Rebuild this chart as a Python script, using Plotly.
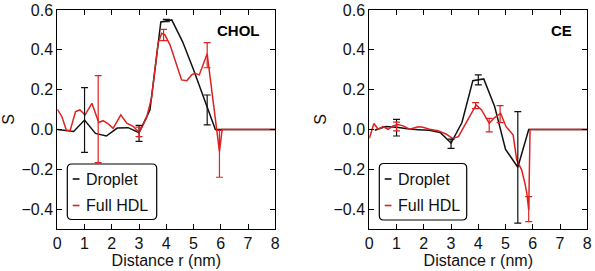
import plotly.graph_objects as go

W, H = 595, 271

# ---------------- data ----------------
chol_drop_x = [0.0, 0.2, 0.6, 1.0, 1.4, 1.8, 2.2, 2.6, 3.0, 3.4, 3.8, 4.2, 4.6, 5.0, 5.4, 5.8, 8.0]
chol_drop_y = [0.0, -0.004, -0.01, 0.047, -0.02, -0.033, 0.007, 0.009, -0.016, 0.098, 0.54, 0.55, 0.44, 0.30, 0.145, 0.0, 0.0]
chol_hdl_x = [0.0, 0.17, 0.33, 0.47, 0.67, 0.83, 1.02, 1.27, 1.52, 1.68, 1.87, 2.05, 2.33, 2.55, 2.8, 3.0,
              3.27, 3.46, 3.7, 3.83, 3.95, 4.14, 4.32, 4.56, 4.75, 4.93, 5.05, 5.21, 5.5, 5.85, 5.95, 6.05, 8.0]
chol_hdl_y = [0.101, 0.064, -0.003, -0.006, 0.09, 0.098, 0.073, 0.131, 0.035, 0.044, 0.028, 0.006, 0.073, 0.031, 0.014, -0.015,
              0.056, 0.16, 0.433, 0.483, 0.475, 0.424, 0.349, 0.249, 0.245, 0.274, 0.282, 0.274, 0.38, -0.003, -0.11, 0.0, 0.0]
chol_drop_err_x = [1.0, 3.0, 4.0, 5.5]
chol_drop_err_y = [0.047, -0.02, 0.547, 0.098]
chol_drop_err_plus = [0.163, 0.04, 0.006, 0.075]
chol_drop_err_minus = [0.162, 0.04, 0.006, 0.075]
chol_hdl_err_x = [1.5, 3.0, 3.9, 5.5, 5.95]
chol_hdl_err_y = [0.05, -0.012, 0.475, 0.372, -0.122]
chol_hdl_err_plus = [0.22, 0.024, 0.028, 0.064, 0.117]
chol_hdl_err_minus = [0.217, 0.024, 0.029, 0.062, 0.118]

ce_drop_x = [0.2, 0.6, 1.0, 1.4, 1.8, 2.2, 2.6, 3.0, 3.4, 3.8, 4.2, 4.6, 5.0, 5.45, 5.85, 8.0]
ce_drop_y = [-0.004, 0.015, 0.011, 0.003, -0.001, -0.004, -0.015, -0.068, 0.035, 0.245, 0.254, 0.115, -0.1, -0.19, 0.0, 0.0]
ce_hdl_x = [0.0, 0.17, 0.32, 0.5, 0.69, 0.87, 1.05, 1.24, 1.48, 1.79, 1.97, 2.21, 2.52, 2.83, 3.05, 3.27, 3.51,
            3.92, 4.12, 4.4, 4.61, 4.82, 5.02, 5.28, 5.41, 5.59, 5.71, 5.78, 5.85, 5.9, 8.0]
ce_hdl_y = [-0.045, 0.03, 0.001, 0.014, 0.001, 0.018, 0.025, 0.018, 0.001, 0.014, 0.011, 0.001, -0.006, -0.024, -0.045, -0.036, 0.023,
            0.123, 0.098, 0.031, 0.061, 0.081, 0.014, -0.028, -0.153, -0.203, -0.27, -0.32, -0.404, 0.0, 0.0]
ce_drop_err_x = [1.0, 3.0, 4.0, 5.45]
ce_drop_err_y = [0.009, -0.072, 0.249, -0.19]
ce_drop_err_plus = [0.042, 0.023, 0.025, 0.28]
ce_drop_err_minus = [0.042, 0.023, 0.025, 0.28]
ce_hdl_err_x = [1.0, 3.9, 4.4, 4.8, 5.85]
ce_hdl_err_y = [0.015, 0.12, 0.022, 0.077, -0.40]
ce_hdl_err_plus = [0.022, 0.015, 0.034, 0.043, 0.063]
ce_hdl_err_minus = [0.022, 0.015, 0.034, 0.043, 0.063]

series_names = ["Droplet", "Full HDL"]
panel_labels = ["CHOL", "CE"]
y_ticks = [-0.4, -0.2, 0.0, 0.2, 0.4, 0.6]
x_ticks = [0, 1, 2, 3, 4, 5, 6, 7, 8]

# ---------------- style ----------------
BLACK = "#111111"
RED = "#dd2222"
FONT = "Liberation Sans, Arial, sans-serif"

fig = go.Figure()

panels = [
    ("x", "y", chol_drop_x, chol_drop_y, chol_hdl_x, chol_hdl_y,
     (chol_drop_err_x, chol_drop_err_y, chol_drop_err_plus, chol_drop_err_minus),
     (chol_hdl_err_x, chol_hdl_err_y, chol_hdl_err_plus, chol_hdl_err_minus)),
    ("x2", "y2", ce_drop_x, ce_drop_y, ce_hdl_x, ce_hdl_y,
     (ce_drop_err_x, ce_drop_err_y, ce_drop_err_plus, ce_drop_err_minus),
     (ce_hdl_err_x, ce_hdl_err_y, ce_hdl_err_plus, ce_hdl_err_minus)),
]

for xa, ya, dx, dy, hx, hy, derr, herr in panels:
    fig.add_trace(go.Scatter(x=dx, y=dy, mode="lines", name=series_names[0],
                             line=dict(color=BLACK, width=1.5), xaxis=xa, yaxis=ya, showlegend=False))
    fig.add_trace(go.Scatter(x=hx, y=hy, mode="lines", name=series_names[1],
                             line=dict(color=RED, width=1.5), xaxis=xa, yaxis=ya, showlegend=False))
    for err, col in ((derr, BLACK), (herr, RED)):
        ex, ey, ep, em = err
        fig.add_trace(go.Scatter(
            x=ex, y=ey, mode="markers", marker=dict(size=0.1, color=col, opacity=0),
            error_y=dict(type="data", array=ep, arrayminus=em, symmetric=False,
                         color=col, thickness=1.2, width=3.5),
            xaxis=xa, yaxis=ya, showlegend=False))

# geometry (pixels)
LEFTS = [57.3, 369.3]
PW = 218.0
TOP, BOT = 10.0, 229.0

def px(x):
    return x / W

def py(y):
    return 1 - y / H

axis_common = dict(
    showline=True, linecolor="black", linewidth=1, mirror="allticks",
    ticks="inside", ticklen=5, tickwidth=1, tickcolor="black",
    showgrid=False, zeroline=False,
    tickfont=dict(family=FONT, size=16, color="#111111"),
)

layout = dict(
    width=W, height=H, margin=dict(l=0, r=0, t=0, b=0),
    paper_bgcolor="white", plot_bgcolor="white",
    font=dict(family=FONT, color="#111111"),
    showlegend=False,
)
for i, L in enumerate(LEFTS):
    sx = "" if i == 0 else str(i + 1)
    layout["xaxis" + sx] = dict(
        axis_common, domain=[px(L), px(L + PW)], range=[0, 8], tickvals=x_ticks,
        anchor="y" + sx, automargin=False,
        title=dict(text="Distance r (nm)", font=dict(family=FONT, size=16), standoff=2),
    )
    layout["yaxis" + sx] = dict(
        axis_common, domain=[py(BOT), py(TOP)], range=[-0.5, 0.6], tickvals=y_ticks,
        tickformat=".1f", anchor="x" + sx, automargin=False,
        title=dict(text="S", font=dict(family=FONT, size=16), standoff=2),
    )
fig.update_layout(**layout)

# panel labels
for L, lab in zip(LEFTS, panel_labels):
    fig.add_annotation(x=px(L + 205), y=py(30.5), xref="paper", yref="paper", text="<b>%s</b>" % lab,
                       showarrow=False, xanchor="right", yanchor="middle",
                       font=dict(family=FONT, size=15, color="black"))

# legends (rounded box + short line samples + labels)
def rounded_path(x0, y0, x1, y1, r):
    def P(x, y):
        return "%.5f,%.5f" % (px(x), py(y))
    return ("M %s L %s Q %s %s L %s Q %s %s L %s Q %s %s L %s Q %s %s Z" % (
        P(x0 + r, y0), P(x1 - r, y0), P(x1, y0), P(x1, y0 + r),
        P(x1, y1 - r), P(x1, y1), P(x1 - r, y1),
        P(x0 + r, y1), P(x0, y1), P(x0, y1 - r),
        P(x0, y0 + r), P(x0, y0), P(x0 + r, y0)))

legend_boxes = [(67.3, 164.0, 156.7, 219.5), (379.3, 163.5, 466.7, 220.0)]
for (bx0, by0, bx1, by1) in legend_boxes:
    fig.add_shape(type="path", path=rounded_path(bx0, by0, bx1, by1, 4.5), xref="paper", yref="paper",
                  line=dict(color="black", width=1.2), fillcolor="white", layer="above")
    rows = [(179.0, BLACK, series_names[0]), (205.5, RED, series_names[1])]
    for ry, col, name in rows:
        fig.add_shape(type="line", x0=px(bx0 + 5.4), x1=px(bx0 + 12.2), y0=py(ry), y1=py(ry),
                      xref="paper", yref="paper", line=dict(color=col, width=1.6), layer="above")
        fig.add_annotation(x=px(bx0 + 16.5), y=py(ry), xref="paper", yref="paper", text=name,
                           showarrow=False, xanchor="left", yanchor="middle",
                           font=dict(family=FONT, size=16, color="#111111"))

fig.write_html("out.html", config={"displayModeBar": False},
               post_script="document.body.style.margin='0';document.body.style.overflow='hidden';")
